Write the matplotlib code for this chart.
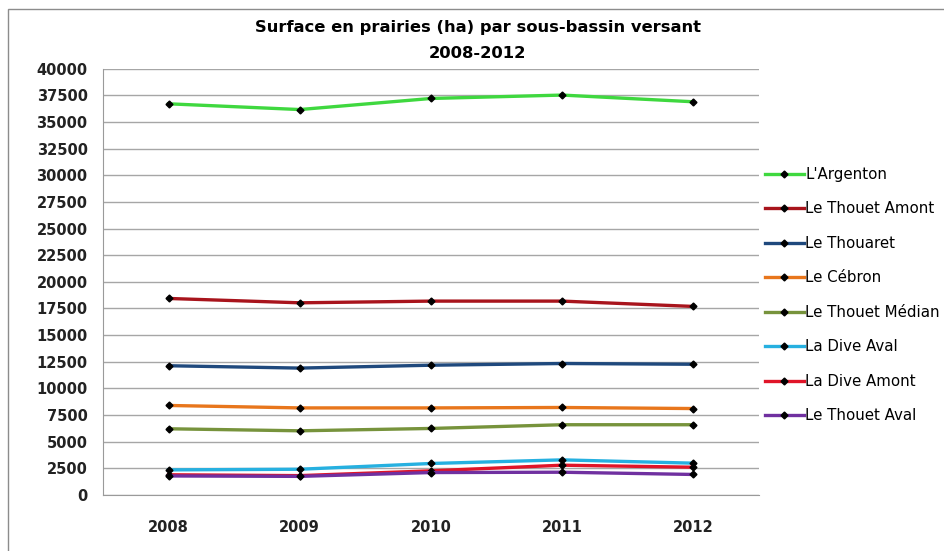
import matplotlib.pyplot as plt
from matplotlib.patches import Rectangle

# values (ha)
years = ["2008", "2009", "2010", "2011", "2012"]
series_names = ["L'Argenton", "Le Thouet Amont", "Le Thouaret", "Le Cébron",
                "Le Thouet Médian", "La Dive Aval", "La Dive Amont", "Le Thouet Aval"]
argenton = [36720, 36180, 37220, 37540, 36910]
thouet_amont = [18440, 18030, 18190, 18190, 17690]
thouaret = [12120, 11900, 12170, 12330, 12260]
cebron = [8390, 8160, 8160, 8200, 8100]
thouet_median = [6200, 6010, 6230, 6580, 6580]
dive_aval = [2340, 2400, 2940, 3280, 2970]
dive_amont = [1880, 1800, 2250, 2780, 2590]
thouet_aval = [1770, 1730, 2090, 2120, 1910]
colors = ["#3fd83f", "#a8141c", "#1f497d", "#e8761c",
          "#77933c", "#26b0e0", "#e01428", "#7030a0"]

all_series = [argenton, thouet_amont, thouaret, cebron,
              thouet_median, dive_aval, dive_amont, thouet_aval]

plt.rcParams["font.family"] = ["DejaVu Sans"]

fig = plt.figure(figsize=(9.44, 5.51), dpi=100)
ax = fig.add_axes([0.109, 0.102, 0.695, 0.773])

x = list(range(len(years)))
for name, vals, c in zip(series_names, all_series, colors):
    ax.plot(x, vals, color=c, linewidth=2.4, marker="D", markersize=3.5,
            markerfacecolor="black", markeredgecolor="black", label=name)

ax.set_xlim(-0.5, len(years) - 0.5)
ax.set_ylim(0, 40000)
ax.set_yticks(range(0, 40001, 2500))
ax.set_xticks(x)
ax.set_xticklabels(years)
ax.grid(axis="y", color="#a6a6a6", linewidth=1)
ax.set_axisbelow(True)
ax.tick_params(length=0, labelsize=10.5)
ax.tick_params(axis="y", pad=11)
ax.tick_params(axis="x", pad=18)
for lab in ax.get_xticklabels() + ax.get_yticklabels():
    lab.set_fontweight("bold")
    lab.set_color("#222222")
for s in ["top", "right"]:
    ax.spines[s].set_visible(False)
for s in ["left", "bottom"]:
    ax.spines[s].set_color("#9a9a9a")

fig.text(0.506, 0.950, "Surface en prairies (ha) par sous-bassin versant",
         ha="center", va="center", fontsize=11.8, fontweight="bold")
fig.text(0.506, 0.903, "2008-2012", ha="center", va="center",
         fontsize=11.8, fontweight="bold")

ax.legend(loc="upper left", bbox_to_anchor=(0.810, 0.697),
          bbox_transform=fig.transFigure, frameon=False, fontsize=10.8,
          handlelength=2.6, handletextpad=0.1, labelspacing=1.3,
          borderpad=0, borderaxespad=0)

# chart area border (right and bottom fall outside the image)
fig.patches.append(Rectangle((0.0085, -0.1), 1.2, 1.084, transform=fig.transFigure,
                             fill=False, edgecolor="#8c8c8c", linewidth=1))

fig.savefig("out.png", dpi=100)
